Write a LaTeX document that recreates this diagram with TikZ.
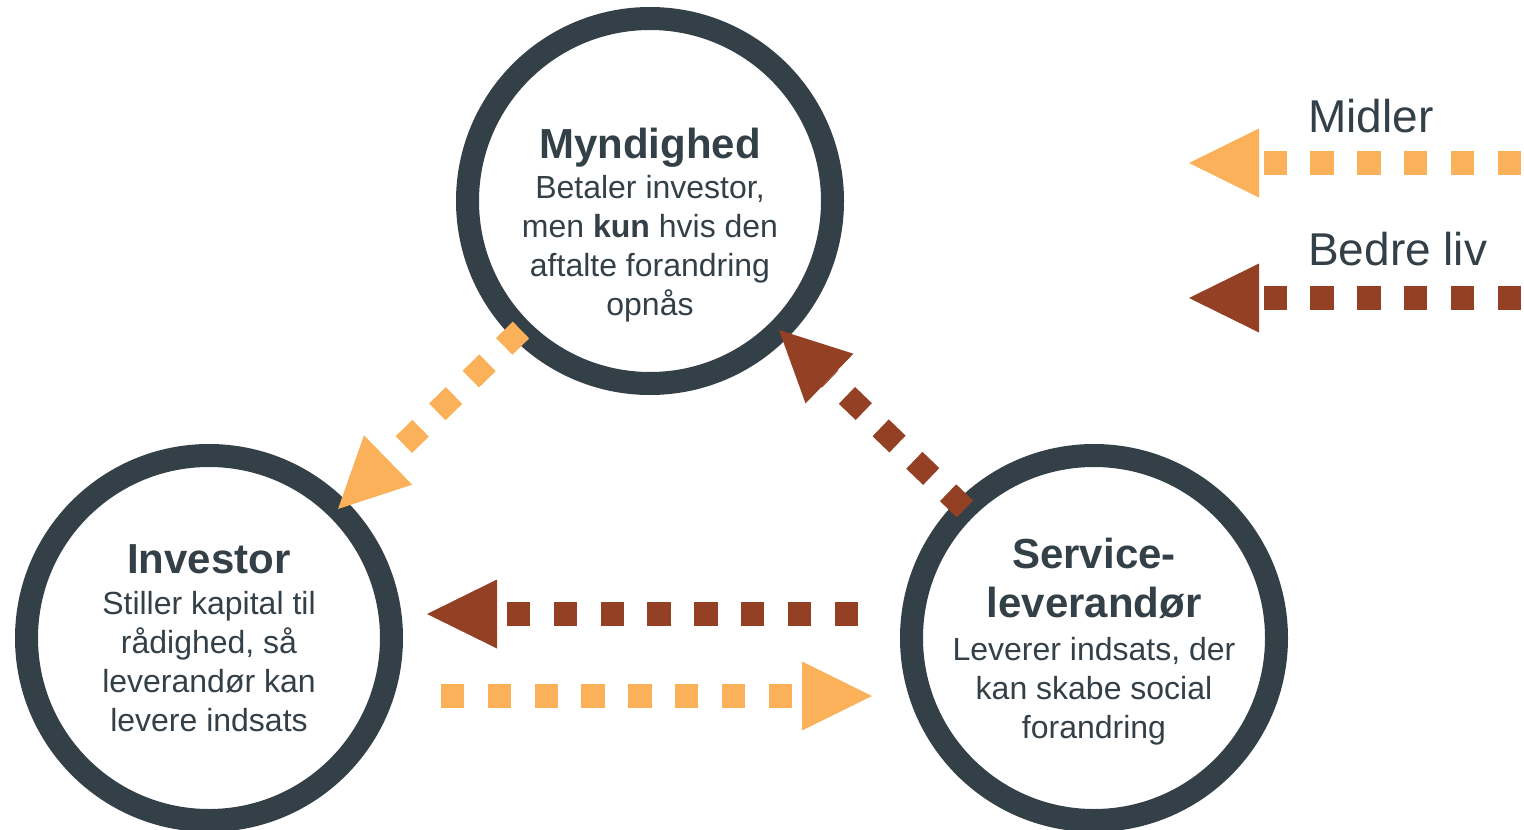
\documentclass[tikz,border=0pt]{standalone}
\usepackage{fontspec}
\setmainfont{Liberation Sans}
\usetikzlibrary{arrows.meta}
\definecolor{slate}{RGB}{52,64,72}
\definecolor{midler}{RGB}{251,177,89}
\definecolor{liv}{RGB}{148,64,36}
\begin{document}
\begin{tikzpicture}[x=1pt,y=-1pt,
  ring/.style={circle,draw=slate,line width=23pt,minimum size=365pt,inner sep=0pt,outer sep=0pt},
  title/.style={text=slate,font=\fontsize{42}{49}\selectfont\bfseries,align=center,inner sep=0pt,anchor=base},
  body/.style={text=slate,font=\fontsize{32}{39}\selectfont,align=center,inner sep=0pt,anchor=base},
  legtext/.style={text=slate,font=\fontsize{46}{55}\selectfont,inner sep=0pt,anchor=base west},
  flow/.style={draw=#1,line width=23.4pt,dash pattern=on 23.4pt off 23.4pt,
    -{Triangle[length=70pt,width=69pt,line width=0pt]}},
]
\useasboundingbox (0,0) rectangle (1524,830);

% circles
\node[ring] (myn) at (650,201) {};
\node[ring] (inv) at (209,638) {};
\node[ring] (srv) at (1094,638) {};

% texts (base anchor = baseline of the last line)
\node[title] (mynT) at (650,158) {Myndighed};
\node[body]  (mynB) at (650,315) {Betaler investor,\\men \textbf{kun} hvis den\\aftalte forandring\\opnås};
\node[title] (invT) at (209,573) {Investor};
\node[body]  (invB) at (209,731) {Stiller kapital til\\rådighed, så\\leverandør kan\\levere indsats};
\node[title] (srvT) at (1094,617) {Service-\\leverandør};
\node[body]  (srvB) at (1094,738) {Leverer indsats, der\\kan skabe social\\forandring};

% connectors between circles
\draw[flow=midler] (myn.225) -- (inv.45);
\draw[flow=liv] (srv.135) -- (myn.-45);

\coordinate (livS) at (858,614);
\coordinate (livE) at (427,614);
\draw[flow=liv] (livS) -- (livE);
\coordinate (midS) at (441,696);
\coordinate (midE) at (872,696);
\draw[flow=midler] (midS) -- (midE);

% legend
\coordinate (lgMS) at (1521,163);
\coordinate (lgME) at (1189,163);
\draw[flow=midler] (lgMS) -- (lgME);
\coordinate (lgLS) at (1521,298);
\coordinate (lgLE) at (1189,298);
\draw[flow=liv] (lgLS) -- (lgLE);
\node[legtext] (lgMT) at (1308,132) {Midler};
\node[legtext] (lgLT) at (1308,265) {Bedre liv};
\end{tikzpicture}
\end{document}
